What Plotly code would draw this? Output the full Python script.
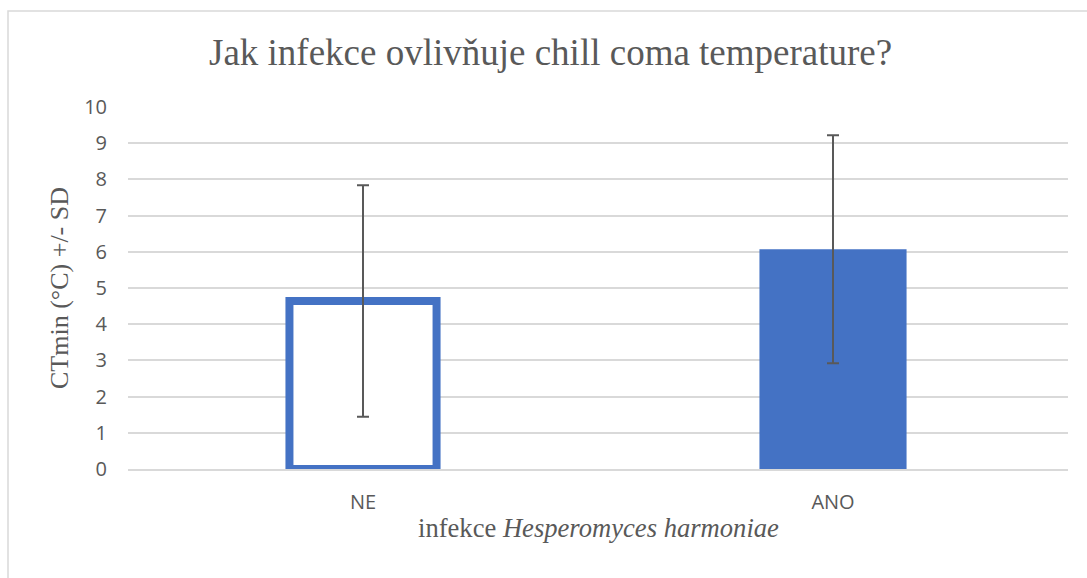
import plotly.graph_objects as go

categories = ["NE", "ANO"]
means = [4.64, 6.07]
sds = [3.2, 3.15]
y_ticks = [0, 1, 2, 3, 4, 5, 6, 7, 8, 9, 10]

title_text = "Jak infekce ovlivňuje chill coma temperature?"
x_title = "infekce <i>Hesperomyces harmoniae</i>"
y_title = "CTmin (°C) +/- SD"

BLUE = "#4472C4"
TXT = "#595959"
GRID = "#D9D9D9"

W, H = 1087, 578
L, R, T, B = 128, 19, 107, 109
pw, ph = W - L - R, H - T - B

def px_x(p):
    return (p - L) / pw

def px_y(p):
    return (H - B - p) / ph

fig = go.Figure()
fig.add_trace(go.Bar(
    x=categories,
    y=means,
    marker=dict(color=["white", BLUE], line=dict(color=[BLUE, BLUE], width=[8, 0])),
    error_y=dict(type="data", array=sds, visible=True, color=TXT, thickness=2, width=6),
    cliponaxis=True,
    showlegend=False,
))

fig.update_layout(
    width=W, height=H,
    margin=dict(l=L, r=R, t=T, b=B),
    paper_bgcolor="white",
    plot_bgcolor="white",
    bargap=0.687,
    font=dict(family="Open Sans", color=TXT, size=20),
    xaxis=dict(showgrid=False, showline=True, linecolor=GRID, linewidth=2,
               ticks="", tickfont=dict(size=20, color=TXT, family="Open Sans"),
               ticklabelstandoff=14),
    yaxis=dict(range=[0, 10], tickvals=y_ticks, showgrid=True, gridcolor=GRID, gridwidth=2,
               zeroline=False, showline=False, ticks="",
               tickfont=dict(size=20, color=TXT, family="Open Sans"),
               ticklabelstandoff=20),
    shapes=[dict(type="rect", xref="paper", yref="paper",
                 x0=px_x(8), x1=px_x(W + 50), y0=px_y(H + 50), y1=px_y(11),
                 line=dict(color=GRID, width=1.5), fillcolor="rgba(0,0,0,0)", layer="below")],
    annotations=[
        dict(text=title_text, xref="paper", yref="paper", x=px_x(550), y=px_y(52),
             xanchor="center", yanchor="middle", showarrow=False,
             font=dict(family="Liberation Serif", size=37, color=TXT)),
        dict(text=x_title, xref="paper", yref="paper", x=0.5, y=px_y(528),
             xanchor="center", yanchor="middle", showarrow=False,
             font=dict(family="Liberation Serif", size=26.6, color=TXT)),
        dict(text=y_title, xref="paper", yref="paper", x=px_x(59), y=0.5, textangle=-90,
             xanchor="center", yanchor="middle", showarrow=False,
             font=dict(family="Liberation Serif", size=26, color=TXT)),
    ],
)

fig.write_html("out.html", config={"displayModeBar": False},
               post_script="document.body.style.margin='0';document.body.style.overflow='hidden';")
